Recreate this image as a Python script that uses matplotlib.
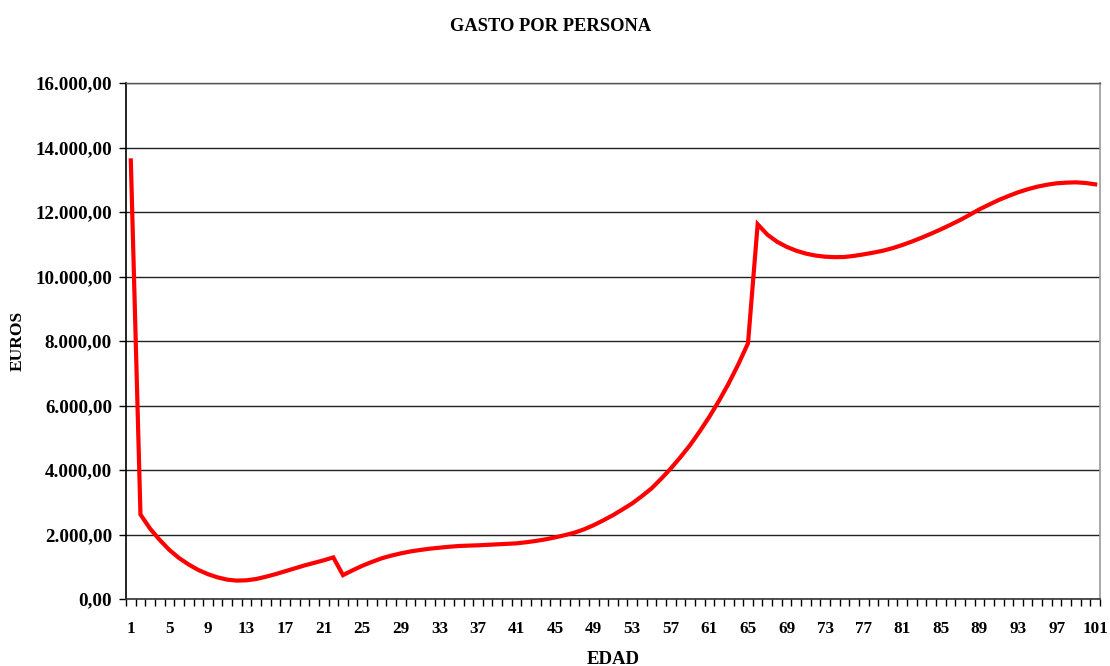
import matplotlib
matplotlib.use("Agg")
import matplotlib.pyplot as plt
from matplotlib.ticker import FixedLocator, FuncFormatter

edad = list(range(1, 102))
gasto = [
    13600, 2620, 2180, 1830, 1520, 1270, 1070, 900, 770, 670,
    600, 570, 580, 620, 690, 770, 860, 950, 1040, 1120,
    1200, 1290, 740, 890, 1030, 1150, 1260, 1345, 1415, 1475,
    1520, 1560, 1590, 1620, 1643, 1655, 1665, 1680, 1695, 1710,
    1726, 1760, 1800, 1850, 1910, 1980, 2056, 2160, 2290, 2440,
    2600, 2780, 2966, 3190, 3430, 3730, 4050, 4400, 4775, 5200,
    5654, 6150, 6688, 7280, 7930, 11620, 11300, 11080, 10920, 10800,
    10710, 10650, 10614, 10600, 10605, 10640, 10687, 10740, 10800, 10880,
    10976, 11085, 11203, 11330, 11463, 11605, 11752, 11915, 12083, 12230,
    12372, 12495, 12610, 12705, 12785, 12845, 12890, 12910, 12920, 12900,
    12858,
]
xlabels_at = list(range(1, 102, 4))
yticks = list(range(0, 16001, 2000))

plt.rcParams['font.family'] = ['Liberation Serif', 'DejaVu Serif']
plt.rcParams['font.weight'] = 'bold'

fig = plt.figure(figsize=(11.1, 6.66), dpi=100)
ax = fig.add_axes([126/1110, 1 - 599/666, (1100 - 126)/1110, (599 - 83)/666])

ax.plot(edad, gasto, color='#ff0000', linewidth=3.0, solid_joinstyle='miter', zorder=3)

ax.set_xlim(0.5, 101.5)
ax.set_ylim(0, 16000)

ax.set_yticks(yticks)
ax.yaxis.set_major_formatter(FuncFormatter(
    lambda v, p: f"{v:,.2f}".replace(",", "X").replace(".", ",").replace("X", ".")))
ax.grid(axis='y', color='#222222', linewidth=1.0, zorder=1)

ax.set_xticks(xlabels_at)
ax.set_xticklabels([str(v) for v in xlabels_at])
ax.xaxis.set_minor_locator(FixedLocator([i + 0.5 for i in range(0, 102)]))
ax.tick_params(axis='x', which='major', length=0, pad=15.5, labelsize=12.3)
ax.tick_params(axis='x', which='minor', length=5, width=1, direction='out', color='black')
ax.tick_params(axis='y', which='major', length=5, width=1, direction='out', pad=5,
               labelsize=13.7, color='black')

for lab in ax.get_xticklabels() + ax.get_yticklabels():
    lab.set_fontweight('bold')

ax.spines['left'].set_color('black')
ax.spines['left'].set_linewidth(1.2)
ax.spines['bottom'].set_color('#333333')
ax.spines['bottom'].set_linewidth(1.2)
ax.spines['right'].set_color('#999999')
ax.spines['right'].set_linewidth(1.2)
ax.spines['top'].set_color('#555555')
ax.spines['top'].set_linewidth(1.0)

fig.text(551/1110, 1 - 31/666, "GASTO POR PERSONA", ha='center', va='baseline',
         fontsize=13.3, fontweight='bold')
fig.text(613/1110, 1 - 664/666, "EDAD", ha='center', va='baseline',
         fontsize=13.5, fontweight='bold')
fig.text(17.5/1110, 1 - 341/666, "EUROS", ha='center', va='center', rotation=90,
         fontsize=12.5, fontweight='bold')

fig.savefig("out.png", dpi=100)
